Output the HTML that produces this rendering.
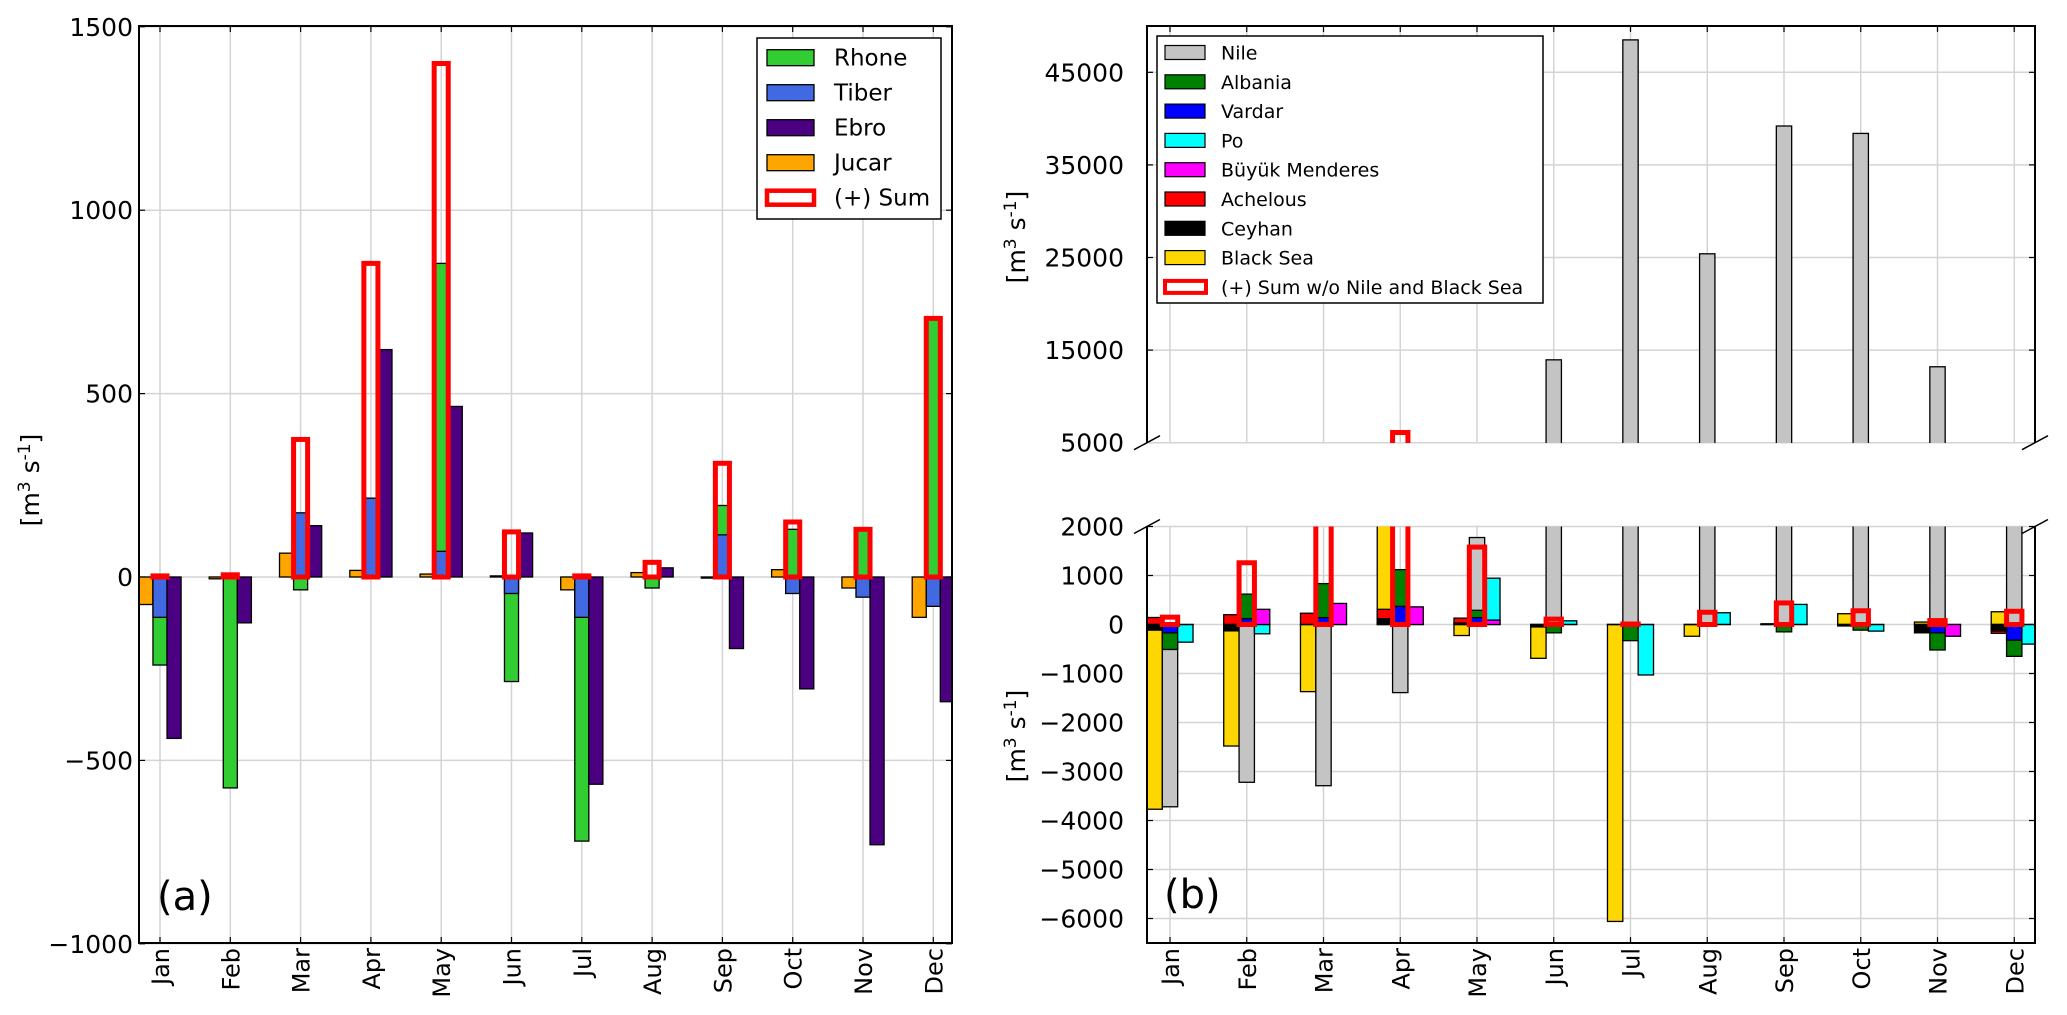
<!DOCTYPE html>
<html><head><meta charset="utf-8"><style>
html,body{margin:0;padding:0;background:#fff;}
svg{display:block;font-family:"DejaVu Sans","Liberation Sans",sans-serif;}
</style></head><body>
<svg id="fig" width="2067" height="1015" viewBox="0 0 2067 1015" xmlns="http://www.w3.org/2000/svg">
<defs>
<clipPath id="clipA"><rect x="139" y="26" width="813" height="917"/></clipPath>
<clipPath id="clipU"><rect x="1147" y="26" width="888" height="417"/></clipPath>
<clipPath id="clipL"><rect x="1147" y="526.5" width="888" height="416.5"/></clipPath>
</defs>
<g id="gA"></g>
<g id="gB"></g>
</svg>
<script>
// ---------- Panel (a) data ----------
const months = ["Jan","Feb","Mar","Apr","May","Jun","Jul","Aug","Sep","Oct","Nov","Dec"];
const rhone = [-240,-575,-35,0,855,-285,-720,-30,195,130,130,705];
const tiber = [-110,0,175,215,70,-45,-110,0,115,-45,-55,-80];
const ebro  = [-440,-125,140,620,465,120,-565,25,-195,-305,-730,-340];
const jucar = [-75,-5,65,18,8,3,-35,12,-3,20,-30,-110];
const sumA  = [3,6,375,855,1400,123,3,40,310,150,130,705];
const ticksA = [1500,1000,500,0,-500,-1000];

// ---------- Panel (b) data ----------
const nile     = [-3720,-3220,-3290,-1390,1775,13950,48500,25400,39200,38400,13200,3500];
const albania  = [-510,620,835,1120,290,-170,-330,0,-150,-115,-520,-650];
const vardar   = [-170,120,140,370,140,0,0,0,0,0,-170,-320];
const po       = [-360,-190,0,0,945,75,-1030,240,410,-135,0,-400];
const menderes = [0,310,430,360,90,0,0,0,0,0,-240,0];
const achelous = [143,200,230,310,130,0,0,0,0,0,0,-180];
const ceyhan   = [-115,-130,0,120,30,-50,0,0,0,-30,-170,-135];
const blacksea = [-3770,-2480,-1370,3000,-225,-690,-6060,-240,15,220,50,260];
const sumB     = [150,1260,2600,6100,1580,110,10,250,440,280,80,270];
const ticksUpper = [45000,35000,25000,15000,5000];
const ticksLower = [2000,1000,0,-1000,-2000,-3000,-4000,-5000,-6000];

const NS="http://www.w3.org/2000/svg";
function mk(tag, attrs, parent){const e=document.createElementNS(NS,tag);for(const k in attrs)e.setAttribute(k,attrs[k]);parent.appendChild(e);return e;}
const gA=document.getElementById('gA'), gB=document.getElementById('gB');

const xA = i => 160 + i*70.3;
const yA = v => 577 - v*0.3668;
const xB = i => 1170 + i*76.75;
const yL = v => 624.5 - v*0.049;
const yU = v => 442.7 - (v-5000)*0.00926;
const GRID="#d4d4d4";

function bar(parent, x, w, y0, y1, fill, name){
  const r=mk('rect',{x:x,y:Math.min(y0,y1),width:w,height:Math.max(Math.abs(y1-y0),0.01),fill:fill,stroke:"#000","stroke-width":1.3},parent);
  
  
  return r;
}
function sumRect(parent, x, w, y0, y1, name){
  const r=mk('rect',{x:x,y:Math.min(y0,y1),width:w,height:Math.abs(y1-y0),fill:"none",stroke:"#ff0000","stroke-width":5},parent);
  
  
}
function txt(parent, x, y, s, attrs, name){
  const t=mk('text',Object.assign({x:x,y:y},attrs),parent);
  t.textContent=s;
  
  
  return t;
}
function fmt(v){return v<0?"\u2212"+Math.abs(v):String(v);}
const lab='[m<tspan dy="-9" font-size="17">3</tspan><tspan dy="9"> s</tspan><tspan dy="-9" font-size="17">-1</tspan><tspan dy="9">]</tspan>';

// ================= Panel (a) =================
(function(){
  const L=139,R=952,T=26,B=943;
  for(let i=0;i<12;i++){mk('line',{x1:xA(i),x2:xA(i),y1:T,y2:B,stroke:GRID,"stroke-width":1.5},gA);}
  ticksA.forEach(v=>{
    mk('line',{x1:L,x2:R,y1:yA(v),y2:yA(v),stroke:GRID,"stroke-width":1.5},gA);
    mk('line',{x1:L,x2:L+6,y1:yA(v),y2:yA(v),stroke:"#000","stroke-width":1.2},gA);
    mk('line',{x1:R-6,x2:R,y1:yA(v),y2:yA(v),stroke:"#000","stroke-width":1.2},gA);
    txt(gA,133,yA(v)+9,fmt(v),{"font-size":25,"text-anchor":"end",fill:"#000"},'y-tick-label');
  });
  const bars=mk('g',{"clip-path":"url(#clipA)"},gA);
  const w=70.3*0.2;
  for(let i=0;i<12;i++){
    const c=xA(i);
    bar(bars,c-3*w/2,w,yA(0),yA(jucar[i]),"#ffa500",'bar-jucar');
    bar(bars,c-w/2,w,yA(0),yA(rhone[i]),"#32cd32",'bar-rhone');
    bar(bars,c-w/2,w,yA(0),yA(tiber[i]),"#4169e1",'bar-tiber');
    bar(bars,c+w/2,w,yA(0),yA(ebro[i]),"#4b0082",'bar-ebro');
    sumRect(bars,c-w/2,w,yA(0),yA(sumA[i]),'bar-sum');
  }
  mk('rect',{x:L,y:T,width:R-L,height:B-T,fill:"none",stroke:"#000","stroke-width":2},gA);
  for(let i=0;i<12;i++){
    mk('line',{x1:xA(i),x2:xA(i),y1:T,y2:T+6,stroke:"#000","stroke-width":1.2},gA);
    mk('line',{x1:xA(i),x2:xA(i),y1:B-6,y2:B,stroke:"#000","stroke-width":1.2},gA);
    txt(gA,0,0,months[i],{"font-size":24,"text-anchor":"end",fill:"#000",transform:`translate(${xA(i)+9},948) rotate(-90)`},'x-tick-label');
  }
  txt(gA,0,0,"",{"font-size":25,"text-anchor":"middle",transform:"translate(39,480) rotate(-90)"},'y-axis-title').innerHTML=lab;
  txt(gA,157,910,"(a)",{"font-size":40,fill:"#000"},'panel-label-a');
  const lg=mk('g',{},gA);
  
  
  mk('rect',{x:757,y:38,width:184,height:181,fill:"#fff",stroke:"#000","stroke-width":1.5},lg);
  const names=["Rhone","Tiber","Ebro","Jucar","(+) Sum"], cols=["#32cd32","#4169e1","#4b0082","#ffa500",null];
  names.forEach((n,k)=>{
    const cy=57.7+k*35;
    if(cols[k]) mk('rect',{x:767,y:cy-8,width:47,height:16,fill:cols[k],stroke:"#000","stroke-width":1.3},lg);
    else mk('rect',{x:767,y:cy-7,width:47,height:14,fill:"none",stroke:"#ff0000","stroke-width":4.5},lg);
    txt(lg,834,cy+8,n,{"font-size":23,fill:"#000"},'legend-entry');
  });
})();

// ================= Panel (b) =================
(function(){
  const L=1147,R=2035,TU=26,BU=442.7,TL=526.5,BL=943;
  for(let i=0;i<12;i++){
    mk('line',{x1:xB(i),x2:xB(i),y1:TU,y2:BU,stroke:GRID,"stroke-width":1.5},gB);
    mk('line',{x1:xB(i),x2:xB(i),y1:TL,y2:BL,stroke:GRID,"stroke-width":1.5},gB);
  }
  ticksUpper.forEach(v=>{
    mk('line',{x1:L,x2:R,y1:yU(v),y2:yU(v),stroke:GRID,"stroke-width":1.5},gB);
    if(v!==5000){
      mk('line',{x1:L,x2:L+6,y1:yU(v),y2:yU(v),stroke:"#000","stroke-width":1.2},gB);
      mk('line',{x1:R-6,x2:R,y1:yU(v),y2:yU(v),stroke:"#000","stroke-width":1.2},gB);
    }
    txt(gB,1124,yU(v)+9,fmt(v),{"font-size":25,"text-anchor":"end",fill:"#000"},'y-tick-label-upper');
  });
  ticksLower.forEach(v=>{
    mk('line',{x1:L,x2:R,y1:yL(v),y2:yL(v),stroke:GRID,"stroke-width":1.5},gB);
    mk('line',{x1:L,x2:L+6,y1:yL(v),y2:yL(v),stroke:"#000","stroke-width":1.2},gB);
    mk('line',{x1:R-6,x2:R,y1:yL(v),y2:yL(v),stroke:"#000","stroke-width":1.2},gB);
    txt(gB,1124,yL(v)+9,fmt(v),{"font-size":25,"text-anchor":"end",fill:"#000"},'y-tick-label-lower');
  });
  const w=76.75*0.2;
  const panels=[[yU,"url(#clipU)"],[yL,"url(#clipL)"]];
  panels.forEach(([yf,cp])=>{
    const g=mk('g',{"clip-path":cp},gB);
    for(let i=0;i<12;i++){
      const c=xB(i), lx=c-3*w/2, cx=c-w/2, rx=c+w/2;
      bar(g,lx,w,yf(0),yf(blacksea[i]),"#ffd700",'bar-black-sea');
      bar(g,lx,w,yf(0),yf(achelous[i]),"#ff0000",'bar-achelous');
      bar(g,lx,w,yf(0),yf(ceyhan[i]),"#000000",'bar-ceyhan');
      bar(g,cx,w,yf(0),yf(nile[i]),"#c4c4c4",'bar-nile');
      bar(g,cx,w,yf(0),yf(albania[i]),"#008000",'bar-albania');
      bar(g,cx,w,yf(0),yf(vardar[i]),"#0000ff",'bar-vardar');
      bar(g,rx,w,yf(0),yf(po[i]),"#00ffff",'bar-po');
      bar(g,rx,w,yf(0),yf(menderes[i]),"#ff00ff",'bar-buyuk-menderes');
      sumRect(g,cx,w,yf(0),yf(sumB[i]),'bar-sum-b');
    }
  });
  mk('path',{d:`M${L},${BU} L${L},${TU} L${R},${TU} L${R},${BU}`,fill:"none",stroke:"#000","stroke-width":2},gB);
  mk('path',{d:`M${L},${TL} L${L},${BL} L${R},${BL} L${R},${TL}`,fill:"none",stroke:"#000","stroke-width":2},gB);
  [[L,BU],[R,BU],[L,TL],[R,TL]].forEach(([x,y])=>{
    const d=mk('line',{x1:x-13,y1:y+7,x2:x+13,y2:y-7,stroke:"#000","stroke-width":1.5},gB);
    
    
  });
  for(let i=0;i<12;i++){
    mk('line',{x1:xB(i),x2:xB(i),y1:TU,y2:TU+6,stroke:"#000","stroke-width":1.2},gB);
    mk('line',{x1:xB(i),x2:xB(i),y1:BL-6,y2:BL,stroke:"#000","stroke-width":1.2},gB);
    txt(gB,0,0,months[i],{"font-size":24,"text-anchor":"end",fill:"#000",transform:`translate(${xB(i)+9},948) rotate(-90)`},'x-tick-label-b');
  }
  txt(gB,0,0,"",{"font-size":25,"text-anchor":"middle",transform:"translate(1025,237) rotate(-90)"},'y-axis-title-upper').innerHTML=lab;
  txt(gB,0,0,"",{"font-size":25,"text-anchor":"middle",transform:"translate(1025,736) rotate(-90)"},'y-axis-title-lower').innerHTML=lab;
  txt(gB,1164,908,"(b)",{"font-size":40,fill:"#000"},'panel-label-b');
  const lg=mk('g',{},gB);
  
  
  mk('rect',{x:1157,y:36,width:386,height:267,fill:"#fff",stroke:"#000","stroke-width":1.5},lg);
  const names=["Nile","Albania","Vardar","Po","B\u00fcy\u00fck Menderes","Achelous","Ceyhan","Black Sea","(+) Sum w/o Nile and Black Sea"];
  const cols=["#c4c4c4","#008000","#0000ff","#00ffff","#ff00ff","#ff0000","#000000","#ffd700",null];
  names.forEach((n,k)=>{
    const cy=52.5+k*29.3;
    if(cols[k]) mk('rect',{x:1165,y:cy-7,width:40,height:14,fill:cols[k],stroke:"#000","stroke-width":1.2},lg);
    else mk('rect',{x:1165,y:cy-6,width:41,height:12,fill:"none",stroke:"#ff0000","stroke-width":4},lg);
    txt(lg,1221,cy+7,n,{"font-size":19,fill:"#000"},'legend-entry-b');
  });
})();
</script>
</body></html>
